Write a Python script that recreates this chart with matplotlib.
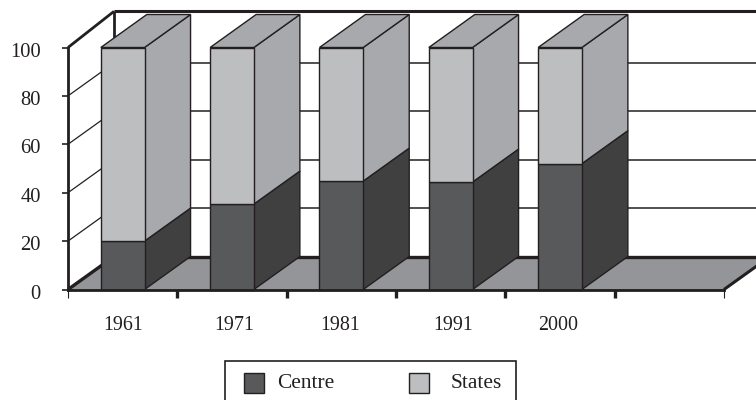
import matplotlib
matplotlib.use("Agg")
import matplotlib.pyplot as plt
from matplotlib.patches import Polygon, Rectangle
from matplotlib.transforms import ScaledTranslation

plt.rcParams["font.family"] = ["Liberation Serif", "DejaVu Serif"]

years = ["1961", "1971", "1981", "1991", "2000"]
centre = [20, 35.3, 44.8, 44.4, 52]
states = [80, 64.7, 55.2, 55.6, 48]
yticks = [0, 20, 40, 60, 80, 100]

# oblique depth, in data units
DX = 46 / 109.3
DY = 33 / 2.42
W = 0.40
EDGE = "#231f20"
W_PX, H_PX = 756, 400

fig = plt.figure(figsize=(7.56, 4.0), dpi=100)
ax = fig.add_axes([68 / W_PX, 1 - 289.5 / H_PX, 656 / W_PX, 242 / H_PX])
ax.set_xlim(0, 6)
ax.set_ylim(0, 100)
ax.patch.set_visible(False)


def poly(pts, fc, lw=1.0, z=3):
    ax.add_patch(Polygon(pts, closed=True, fc=fc, ec=EDGE, lw=lw, zorder=z,
                         clip_on=False, joinstyle="miter"))


def line(xs, ys, lw=1.0, z=1):
    ax.plot(xs, ys, color=EDGE, lw=lw, zorder=z, clip_on=False,
            solid_capstyle="butt")


xmax_back = 6.3
top_back = 100 + DY + 1.3

# back wall
for v in yticks[1:-1]:
    line([0, DX], [v, v + DY], lw=0.9)
    line([DX, xmax_back], [v + DY, v + DY], lw=1.1)
line([0, DX], [100, top_back], lw=2.0)
line([DX, xmax_back], [top_back, top_back], lw=2.2)
line([DX, DX], [DY, top_back], lw=2.0)

# floor
poly([(0, 0), (6, 0), (6 + DX, DY), (DX, DY)], "#939598", lw=0.4, z=2)
line([DX, xmax_back], [DY, DY], lw=2.4, z=2)
line([0, DX], [0, DY], lw=2.4, z=2)
line([6, 6 + DX], [0, DY], lw=2.2, z=2)

# bars
for i, (c, s) in enumerate(zip(centre, states)):
    x0 = i + 0.5 - W / 2
    x1 = x0 + W
    t = c + s
    z = 3 + i
    poly([(x1, 0), (x1 + DX, DY), (x1 + DX, c + DY), (x1, c)], "#404041", z=z)
    poly([(x1, c), (x1 + DX, c + DY), (x1 + DX, t + DY), (x1, t)], "#a7a9ac", z=z)
    poly([(x0, t), (x1, t), (x1 + DX, t + DY), (x0 + DX, t + DY)], "#a7a9ac", z=z)
    poly([(x0, 0), (x1, 0), (x1, c), (x0, c)], "#58595b", z=z)
    poly([(x0, c), (x1, c), (x1, t), (x0, t)], "#bcbec0", z=z)

# axes
for side in ["top", "right"]:
    ax.spines[side].set_visible(False)
for side in ["left", "bottom"]:
    ax.spines[side].set_linewidth(2.0)
    ax.spines[side].set_color(EDGE)
    ax.spines[side].set_zorder(20)

ax.set_yticks(yticks)
ax.set_yticklabels([str(v) for v in yticks], fontsize=14.8, color=EDGE)
ax.tick_params(axis="y", length=4.5, width=1.2, color=EDGE, pad=15)
shift = ScaledTranslation(0, -1.5 / 72, fig.dpi_scale_trans)
for lbl in ax.get_yticklabels():
    lbl.set_transform(lbl.get_transform() + shift)

ax.set_xticks(range(1, 6))
ax.set_xticks([0, 6], minor=True)
ax.tick_params(axis="x", which="major", length=6, width=2.4, color=EDGE, labelbottom=False)
ax.tick_params(axis="x", which="minor", length=6, width=0.8, color=EDGE)

# year labels sit a little off the bar centres in the original
label_shift = [0, 2, -1.5, 2, -2]
for i, (yr, sh) in enumerate(zip(years, label_shift)):
    ax.annotate(yr, xy=(i + 0.5, 0), xycoords="data", xytext=(sh, -27),
                textcoords="offset pixels", ha="center", va="top",
                fontsize=14.4, color=EDGE, annotation_clip=False)


# legend is laid out by hand, its two swatch-to-text gaps differ
def fig_xy(px, py):
    return px / W_PX, 1 - py / H_PX


fig.add_artist(Rectangle(fig_xy(225, 410), 291 / W_PX, 49 / H_PX, fc="white", ec=EDGE,
                         lw=1.2, transform=fig.transFigure))
for name, col, hx, tx in [("Centre", "#58595b", 243.5, 277), ("States", "#bcbec0", 408.5, 451)]:
    fig.add_artist(Rectangle(fig_xy(hx, 393), 20 / W_PX, 20 / H_PX, fc=col, ec=EDGE,
                             lw=1.0, transform=fig.transFigure))
    fig.text(*fig_xy(tx, 384), name, fontsize=15.4, color=EDGE, ha="left", va="center")

fig.savefig("out.png", dpi=100)
